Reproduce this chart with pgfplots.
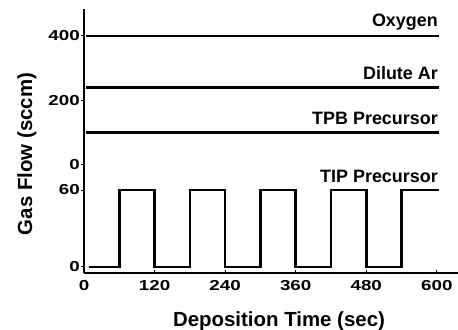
\documentclass[border=0pt]{standalone}
\usepackage{pgfplots}
\pgfplotsset{compat=1.18}
\usepackage{fontspec}
\setmainfont{Liberation Sans}
\newfontfamily\tickfont[FakeStretch=1.3]{Liberation Sans}

\pgfplotsset{
  flowaxis/.style={
    scale only axis,
    width=374bp,
    xmin=0, xmax=636,
    axis line style={line width=1.5bp},
    major tick length=3bp,
    tick style={line width=1bp, black},
    /pgf/number format/assume math mode=true,
    tick label style={font=\tickfont\bfseries\fontsize{14.5}{15}\selectfont, inner sep=1pt},
    clip=false,
  },
}
\tikzset{
  flow/.style={black, line width=2.6bp, line join=miter},
  gas/.style={anchor=base east, font=\bfseries\fontsize{18}{19}\selectfont, inner sep=0pt},
}

\begin{document}
\begin{tikzpicture}
\path[use as bounding box] (0,0) rectangle (458bp,330bp);

% lower panel: TIP precursor pulses
\begin{axis}[flowaxis,
  at={(84bp,57bp)}, anchor=south west,
  height=108bp,
  ymin=-4.7, ymax=79.5,
  axis x line*=bottom, axis y line*=left,
  xtick={0,120,240,360,480,600},
  ytick={0,60},
  xtick align=inside, ytick align=outside,
  xticklabel style={yshift=-6bp},
]
\addplot[flow] coordinates {
  (8,0) (60,0) (60,60) (120,60) (120,0) (180,0) (180,60) (240,60)
  (240,0) (300,0) (300,60) (360,60) (360,0) (420,0) (420,60) (480,60)
  (480,0) (540,0) (540,60) (603,60)
};
\node[gas] at (axis cs:602,66) {TIP Precursor};
\end{axis}

% upper panel: constant flows
\begin{axis}[flowaxis,
  at={(84bp,165bp)}, anchor=south west,
  height=156bp,
  ymin=0, ymax=483,
  axis x line=none, axis y line*=left,
  ytick={0,200,400},
  ytick align=outside,
]
\addplot[flow] coordinates {(3,400) (603,400)};
\addplot[flow] coordinates {(3,240) (603,240)};
\addplot[flow] coordinates {(3,100) (603,100)};
\node[gas] at (axis cs:602,428) {Oxygen};
\node[gas] at (axis cs:602,264) {Dilute Ar};
\node[gas] at (axis cs:602,124) {TPB Precursor};
\end{axis}

% shared axis titles
\node[anchor=base, inner sep=0pt, font=\bfseries\fontsize{20.5}{22}\selectfont]
  at (279bp,4bp) {Deposition Time (sec)};
\node[anchor=base, inner sep=0pt, rotate=90, font=\bfseries\fontsize{20.5}{22}\selectfont]
  at (32bp,176bp) {Gas Flow (sccm)};
\end{tikzpicture}
\end{document}
